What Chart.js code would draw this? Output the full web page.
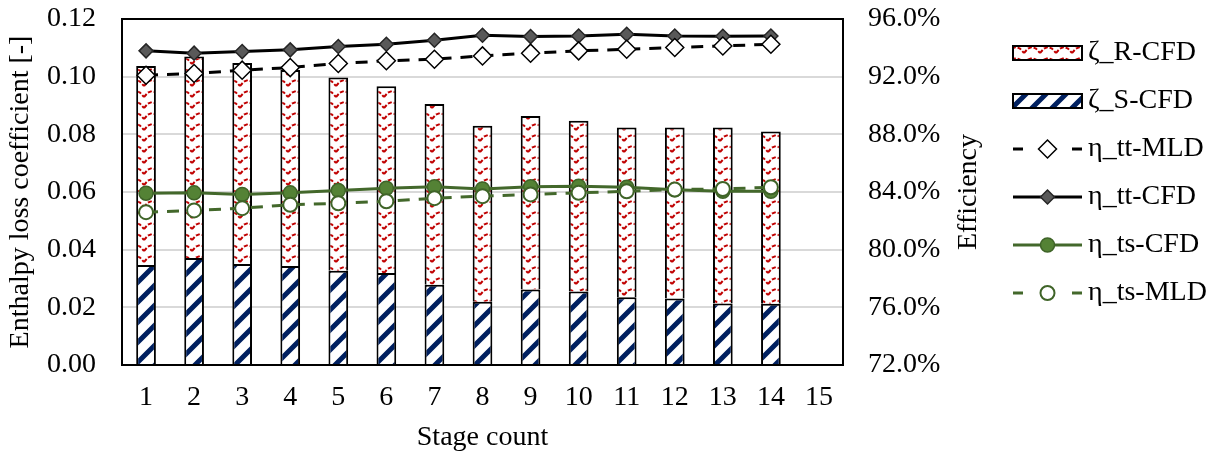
<!DOCTYPE html>
<html>
<head>
<meta charset="utf-8">
<script src="https://cdn.jsdelivr.net/npm/chart.js@4.4.0/dist/chart.umd.min.js"></script>
<style>
  body { margin: 0; background: #fff; }
  #wrap { width: 1223px; height: 457px; }
</style>
</head>
<body>
<div id="wrap"><canvas id="myChart" width="1223" height="457"></canvas></div>
<script>
  const stages = ['1', '2', '3', '4', '5', '6', '7', '8', '9', '10', '11', '12', '13', '14', '15'];
  const zetaS = [0.0347, 0.0371, 0.0350, 0.0343, 0.0327, 0.0319, 0.0278, 0.0219, 0.0262, 0.0255, 0.0235, 0.0231, 0.0213, 0.0212];
  const zetaR = [0.0690, 0.0699, 0.0697, 0.0680, 0.0670, 0.0648, 0.0627, 0.0611, 0.0602, 0.0592, 0.0589, 0.0593, 0.0611, 0.0598];
  const etaTtCfd = [93.79, 93.63, 93.74, 93.86, 94.09, 94.25, 94.53, 94.87, 94.78, 94.82, 94.94, 94.82, 94.80, 94.82];
  const etaTtMld = [92.10, 92.22, 92.45, 92.63, 92.91, 93.10, 93.21, 93.44, 93.63, 93.79, 93.90, 94.02, 94.13, 94.25];
  const etaTsCfd = [83.92, 83.94, 83.83, 83.94, 84.10, 84.26, 84.37, 84.21, 84.37, 84.40, 84.33, 84.15, 84.05, 84.05];
  const etaTsMld = [82.60, 82.72, 82.88, 83.11, 83.22, 83.36, 83.57, 83.71, 83.83, 83.94, 84.05, 84.17, 84.21, 84.33];

  const lossTitle = 'Enthalpy loss coefficient [-]';
  const effTitle = 'Efficiency';
  const xTitle = 'Stage count';

  const serif = "'Liberation Serif', 'Times New Roman', serif";
  const green = '#43682b';

  // hatch fills like the excel patterns
  function wavePattern() {
    const c = document.createElement('canvas');
    c.width = 16; c.height = 11;
    const g = c.getContext('2d');
    g.fillStyle = '#fff';
    g.fillRect(0, 0, 16, 11);
    g.strokeStyle = '#c00000';
    g.lineWidth = 2;
    g.setLineDash([4, 2]);
    g.beginPath();
    g.moveTo(0, 9);
    g.lineTo(4, 4.5);
    g.lineTo(8, 3);
    g.lineTo(12, 4.5);
    g.lineTo(16, 9);
    g.stroke();
    return g.createPattern(c, 'repeat');
  }

  function stripePattern() {
    const c = document.createElement('canvas');
    c.width = 20; c.height = 20;
    const g = c.getContext('2d');
    g.fillStyle = '#fff';
    g.fillRect(0, 0, 20, 20);
    g.strokeStyle = '#002060';
    g.lineWidth = 5;
    g.beginPath();
    g.moveTo(-10, 10); g.lineTo(10, -10);
    g.moveTo(0, 20); g.lineTo(20, 0);
    g.moveTo(10, 30); g.lineTo(30, 10);
    g.stroke();
    return g.createPattern(c, 'repeat');
  }

  const extras = {
    id: 'extras',
    beforeDatasetsDraw(chart) {
      const {ctx, chartArea: a} = chart;
      ctx.save();
      ctx.strokeStyle = '#000';
      ctx.lineWidth = 2;
      ctx.strokeRect(a.left, a.top, a.right - a.left, a.bottom - a.top);
      ctx.restore();
    },
    afterDraw(chart) {
      const ctx = chart.ctx;
      ctx.save();
      ctx.fillStyle = '#000';
      ctx.font = '28px ' + serif;
      ctx.textBaseline = 'middle';

      // right axis title, reads bottom to top
      ctx.save();
      ctx.translate(969, (chart.chartArea.top + chart.chartArea.bottom) / 2);
      ctx.rotate(-Math.PI / 2);
      ctx.textAlign = 'center';
      ctx.fillText(effTitle, 0, 0);
      ctx.restore();

      // legend
      const order = [1, 0, 2, 3, 4, 5];
      const x0 = 1013, x1 = 1082, xm = (x0 + x1) / 2;
      order.forEach((idx, i) => {
        const ds = chart.data.datasets[idx];
        const y = 53 + i * 48;
        if (ds.type === 'line') {
          ctx.save();
          ctx.strokeStyle = ds.borderColor;
          ctx.lineWidth = ds.borderWidth;
          ctx.beginPath();
          if (ds.borderDash) {
            ctx.moveTo(x0, y); ctx.lineTo(x0 + 10, y);
            ctx.moveTo(x1 - 10, y); ctx.lineTo(x1, y);
          } else {
            ctx.moveTo(x0, y); ctx.lineTo(x1, y);
          }
          ctx.stroke();
          ctx.fillStyle = ds.pointBackgroundColor;
          ctx.strokeStyle = ds.pointBorderColor;
          ctx.lineWidth = ds.pointBorderWidth;
          Chart.helpers.drawPoint(ctx, {
            pointStyle: ds.pointStyle, rotation: 0,
            radius: ds.pointRadius, borderWidth: ds.pointBorderWidth
          }, xm, y);
          ctx.restore();
        } else {
          ctx.fillStyle = ds.backgroundColor;
          ctx.fillRect(x0, y - 7, x1 - x0, 14);
          ctx.strokeStyle = '#000';
          ctx.lineWidth = 2;
          ctx.strokeRect(x0, y - 7, x1 - x0, 14);
        }
        ctx.fillStyle = '#000';
        ctx.textAlign = 'left';
        ctx.fillText(ds.label, 1088, y);
      });
      ctx.restore();
    }
  };

  const ctx = document.getElementById('myChart');

  new Chart(ctx, {
    type: 'bar',
    data: {
      labels: stages,
      datasets: [
        {
          label: 'ζ_S-CFD',
          data: zetaS,
          backgroundColor: stripePattern(),
          borderColor: '#000',
          borderWidth: 2,
          yAxisID: 'y',
          order: 10
        },
        {
          label: 'ζ_R-CFD',
          data: zetaR,
          backgroundColor: wavePattern(),
          borderColor: '#000',
          borderWidth: 2,
          yAxisID: 'y',
          order: 10
        },
        {
          type: 'line',
          label: 'η_tt-MLD',
          data: etaTtMld,
          yAxisID: 'y1',
          borderColor: '#000',
          borderWidth: 3,
          borderDash: [12, 9],
          pointStyle: 'rectRot',
          pointRadius: 9,
          pointBackgroundColor: '#fff',
          pointBorderColor: '#000',
          pointBorderWidth: 1.5,
          order: 3
        },
        {
          type: 'line',
          label: 'η_tt-CFD',
          data: etaTtCfd,
          yAxisID: 'y1',
          borderColor: '#000',
          borderWidth: 3,
          pointStyle: 'rectRot',
          pointRadius: 7,
          pointBackgroundColor: '#595959',
          pointBorderColor: '#262626',
          pointBorderWidth: 1.5,
          order: 4
        },
        {
          type: 'line',
          label: 'η_ts-CFD',
          data: etaTsCfd,
          yAxisID: 'y1',
          borderColor: green,
          borderWidth: 3,
          pointStyle: 'circle',
          pointRadius: 7,
          pointBackgroundColor: '#548235',
          pointBorderColor: '#3f6428',
          pointBorderWidth: 1.5,
          order: 2
        },
        {
          type: 'line',
          label: 'η_ts-MLD',
          data: etaTsMld,
          yAxisID: 'y1',
          borderColor: green,
          borderWidth: 3,
          borderDash: [12, 9],
          pointStyle: 'circle',
          pointRadius: 7,
          pointBackgroundColor: '#fff',
          pointBorderColor: '#3f6428',
          pointBorderWidth: 2,
          order: 1
        }
      ]
    },
    options: {
      responsive: false,
      animation: false,
      categoryPercentage: 1,
      barPercentage: 0.41,
      layout: { padding: { left: 0, right: 223, top: 19, bottom: 0 } },
      plugins: {
        legend: { display: false },
        tooltip: { enabled: false }
      },
      scales: {
        x: {
          stacked: true,
          offset: true,
          grid: { display: false, drawTicks: false },
          border: { display: false },
          ticks: { color: '#000', font: { family: serif, size: 28 }, padding: 16, maxRotation: 0 },
          title: { display: true, text: xTitle, color: '#000', font: { family: serif, size: 28 }, padding: { top: 0, bottom: 3 } },
          afterFit(s) { s.height = 92; s.paddingLeft = 0; s.paddingRight = 0; }
        },
        y: {
          stacked: true,
          position: 'left',
          min: 0,
          max: 0.12,
          ticks: {
            stepSize: 0.02,
            color: '#000',
            font: { family: serif, size: 28 },
            padding: 26,
            callback: v => v.toFixed(2)
          },
          grid: { color: '#d9d9d9', lineWidth: 2, drawTicks: false },
          border: { display: false },
          title: { display: true, text: lossTitle, color: '#000', font: { family: serif, size: 28 }, padding: { top: 4, bottom: 0 } },
          afterFit(s) { s.width = 122; s.paddingTop = 0; s.paddingBottom = 0; }
        },
        y1: {
          position: 'right',
          min: 72,
          max: 96,
          ticks: {
            stepSize: 4,
            color: '#000',
            font: { family: serif, size: 28 },
            padding: 25,
            callback: v => v.toFixed(1) + '%'
          },
          grid: { display: false, drawTicks: false },
          border: { display: false },
          afterFit(s) { s.width = 157; s.paddingTop = 0; s.paddingBottom = 0; }
        }
      }
    },
    plugins: [extras]
  });
</script>
</body>
</html>
